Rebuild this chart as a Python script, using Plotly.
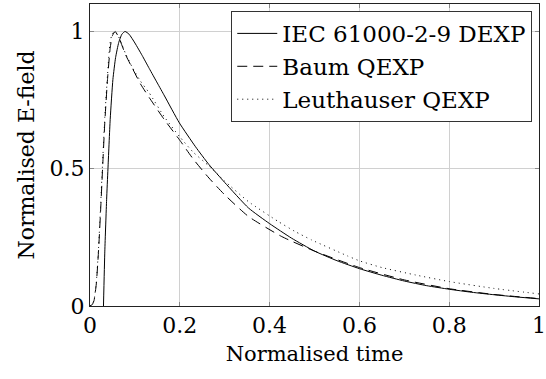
import plotly.graph_objects as go

# Normalised time / field readings
t_iec = [0.030, 0.033, 0.037, 0.040, 0.045, 0.051, 0.057, 0.064, 0.071, 0.078, 0.087, 0.100, 0.116,
         0.132, 0.150, 0.166, 0.199, 0.235, 0.265, 0.30, 0.353, 0.40, 0.449, 0.50, 0.55, 0.60, 0.65,
         0.70, 0.75, 0.80, 0.85, 0.90, 0.95, 1.0]
e_iec = [0.0, 0.2, 0.387, 0.5, 0.68, 0.825, 0.905, 0.96, 0.99, 1.0, 0.99, 0.958, 0.913,
         0.865, 0.812, 0.765, 0.667, 0.58, 0.515, 0.45, 0.357, 0.30, 0.247, 0.2, 0.165, 0.136, 0.112,
         0.091, 0.074, 0.061, 0.050, 0.041, 0.033, 0.026]

t_baum = [0.0, 0.005, 0.009, 0.014, 0.019, 0.024, 0.028, 0.033, 0.039, 0.045, 0.050, 0.056, 0.065,
          0.079, 0.094, 0.112, 0.132, 0.165, 0.199, 0.23, 0.265, 0.30, 0.353, 0.427, 0.50, 0.60,
          0.70, 0.80, 0.90, 1.0]
e_baum = [0.0, 0.005, 0.02, 0.08, 0.2, 0.36, 0.5, 0.67, 0.825, 0.94, 0.985, 1.0, 0.975,
          0.916, 0.867, 0.81, 0.759, 0.68, 0.606, 0.535, 0.466, 0.405, 0.326, 0.253, 0.2, 0.14,
          0.095, 0.063, 0.042, 0.027]

t_leut = [0.0, 0.005, 0.009, 0.014, 0.019, 0.024, 0.028, 0.033, 0.039, 0.044, 0.049, 0.055, 0.064,
          0.079, 0.094, 0.112, 0.132, 0.165, 0.199, 0.23, 0.265, 0.30, 0.353, 0.419, 0.456, 0.493,
          0.574, 0.601, 0.65, 0.725, 0.80, 0.90, 1.0]
e_leut = [0.0, 0.006, 0.022, 0.085, 0.21, 0.38, 0.52, 0.69, 0.84, 0.95, 0.99, 1.0, 0.98,
          0.92, 0.87, 0.82, 0.776, 0.69, 0.618, 0.56, 0.51, 0.455, 0.38, 0.308, 0.272, 0.241,
          0.182, 0.164, 0.14, 0.113, 0.089, 0.064, 0.044]

x_ticks = [0, 0.2, 0.4, 0.6, 0.8, 1]
x_ticklabels = ["0", "0.2", "0.4", "0.6", "0.8", "1"]
y_ticks = [0, 0.5, 1]
y_ticklabels = ["0", "0.5", "1"]

FONT = "DejaVu Serif"

fig = go.Figure()
fig.add_trace(go.Scatter(x=t_iec, y=e_iec, mode="lines", name="IEC 61000-2-9 DEXP",
                         line=dict(color="black", width=1, shape="spline", smoothing=0.5)))
fig.add_trace(go.Scatter(x=t_baum, y=e_baum, mode="lines", name="Baum QEXP",
                         line=dict(color="black", width=1, dash="10px,6px", shape="spline", smoothing=0.5)))
fig.add_trace(go.Scatter(x=t_leut, y=e_leut, mode="lines", name="Leuthauser QEXP",
                         line=dict(color="black", width=1, dash="1px,4px", shape="spline", smoothing=0.5)))

axis_common = dict(showline=True, linecolor="#222", linewidth=1, mirror="ticks",
                   showgrid=True, gridcolor="#d0d0d0", gridwidth=1, zeroline=False,
                   ticks="inside", ticklen=4, tickcolor="#888", tickwidth=1,
                   ticklabeloverflow="allow",
                   tickfont=dict(family=FONT, size=22, color="black"))

fig.update_xaxes(range=[0, 1], tickvals=x_ticks, ticktext=x_ticklabels,
                 title=dict(text="Normalised time", font=dict(family=FONT, size=21, color="black"), standoff=8),
                 automargin=False, **axis_common)
fig.update_yaxes(range=[0, 1.1], tickvals=y_ticks, ticktext=y_ticklabels,
                 title=dict(text="Normalised E-field", font=dict(family=FONT, size=22, color="black"), standoff=8),
                 automargin=False, **axis_common)

fig.update_layout(
    width=546, height=379,
    margin=dict(l=90, r=7, t=4, b=73),
    plot_bgcolor="white", paper_bgcolor="white",
    font=dict(family=FONT, size=22, color="black"),
    showlegend=True,
    legend=dict(x=0.985, y=0.977, xanchor="right", yanchor="top",
                bordercolor="#333", borderwidth=1, bgcolor="white",
                font=dict(family=FONT, size=23, color="black"),
                tracegroupgap=0, itemwidth=40),
)

fig.write_html("out.html")
